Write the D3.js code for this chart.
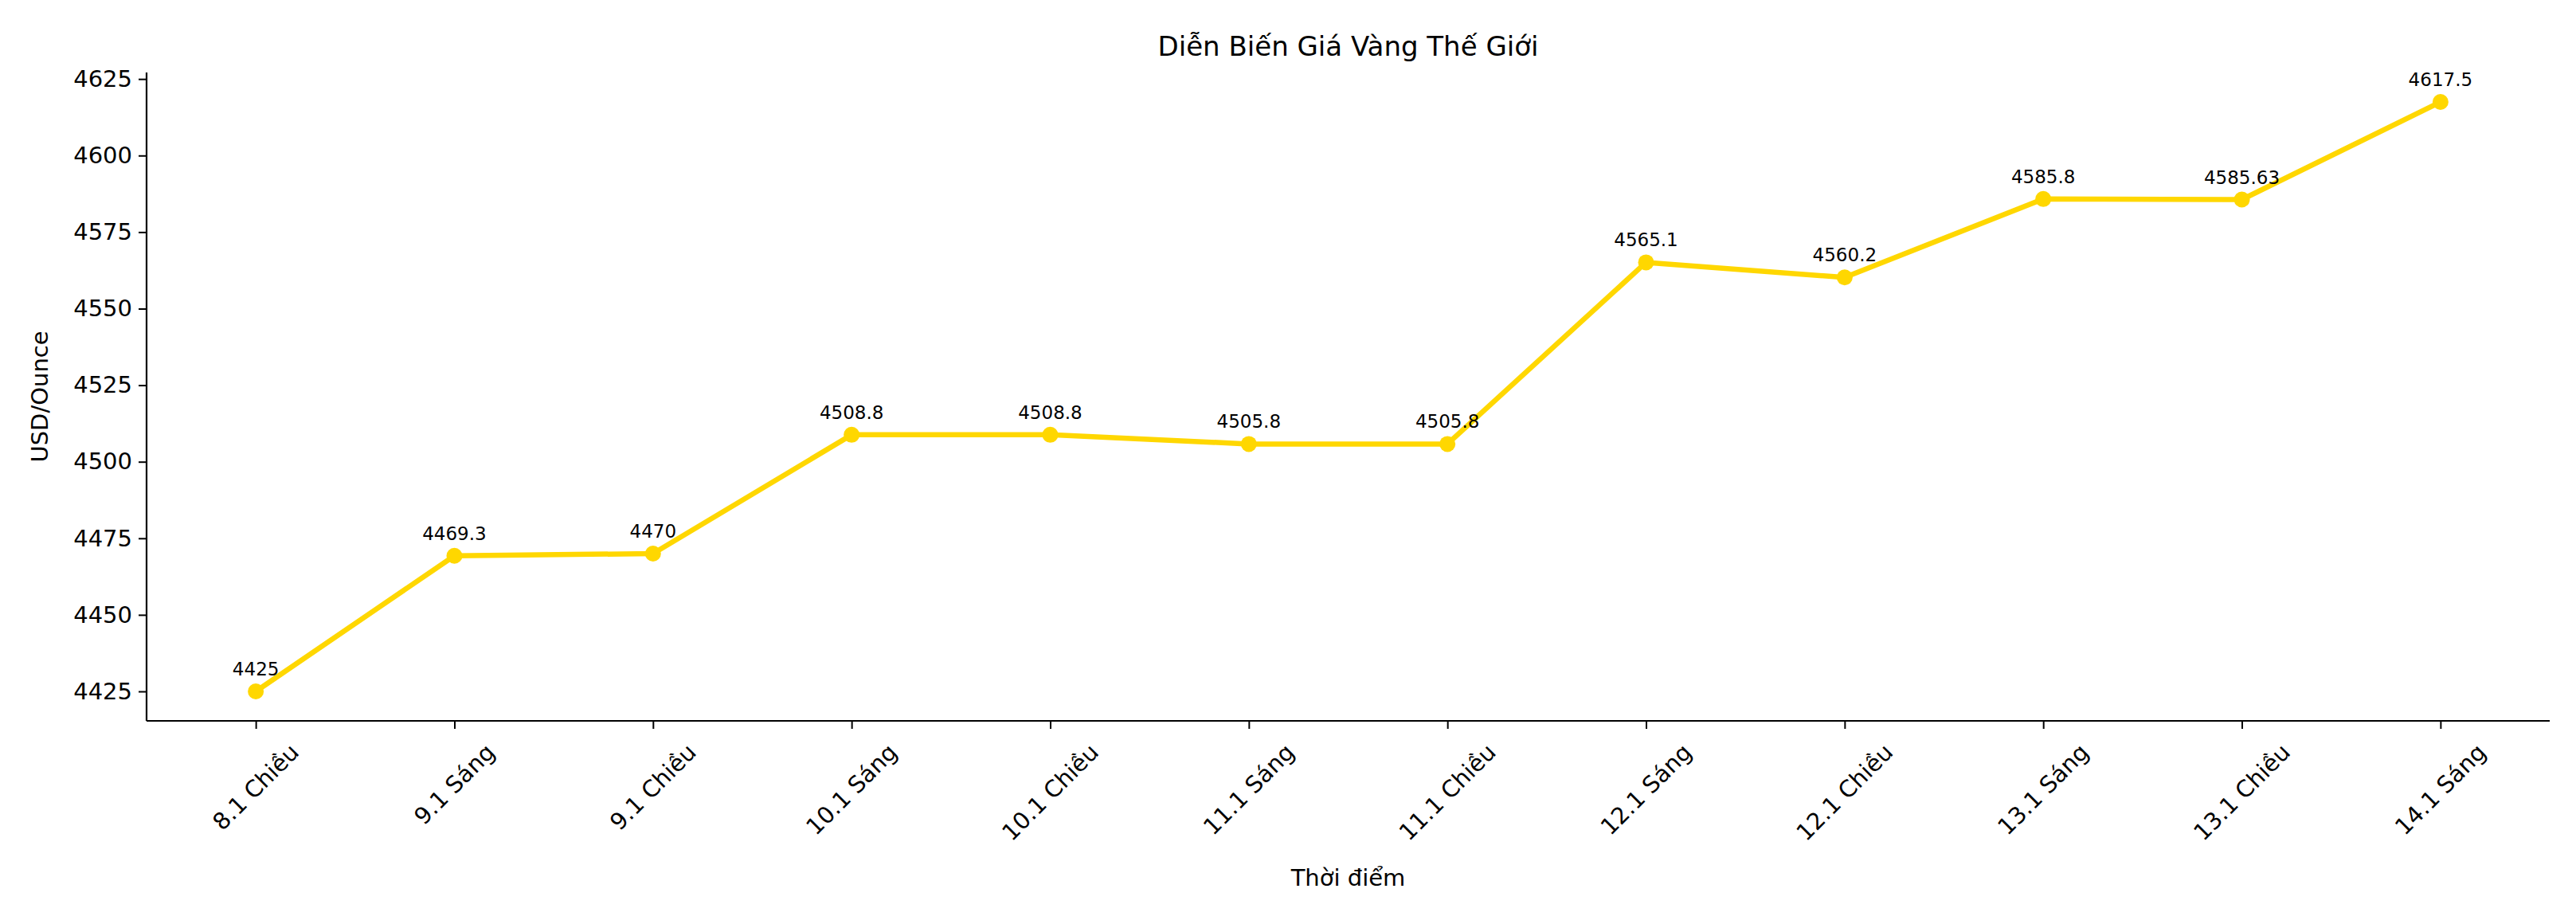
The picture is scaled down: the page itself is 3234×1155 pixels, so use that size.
<!DOCTYPE html>
<html>
<head>
<meta charset="utf-8">
<script src="https://cdn.jsdelivr.net/npm/d3@7"></script>
<style>
  body { margin: 0; background: #fff; }
  text { font-family: "DejaVu Sans", sans-serif; fill: #000; }
</style>
</head>
<body>
<svg id="chart" width="3234" height="1155"></svg>
<script>
var categories = ["8.1 Chiều", "9.1 Sáng", "9.1 Chiều", "10.1 Sáng", "10.1 Chiều", "11.1 Sáng",
                  "11.1 Chiều", "12.1 Sáng", "12.1 Chiều", "13.1 Sáng", "13.1 Chiều", "14.1 Sáng"];
var prices = [4425, 4469.3, 4470, 4508.8, 4508.8, 4505.8, 4505.8, 4565.1, 4560.2, 4585.8, 4585.63, 4617.5];
var yTicks = [4425, 4450, 4475, 4500, 4525, 4550, 4575, 4600, 4625];

var mLeft = 184, mRight = 3201, mTop = 91, mBottom = 905;
var gold = "#FFD700";
var svg = d3.select("#chart");

// matplotlib style 5% margins
var n = categories.length;
var x = d3.scaleLinear().domain([-0.55, n - 1 + 0.55]).range([mLeft, mRight]);
var ext = d3.extent(prices), pad = (ext[1] - ext[0]) * 0.05;
var y = d3.scaleLinear().domain([ext[0] - pad, ext[1] + pad]).range([mBottom, mTop]);

// y axis
var yAxis = svg.append("g").attr("transform", "translate(" + mLeft + ",0)")
    .call(d3.axisLeft(y).tickValues(yTicks).tickSize(10).tickPadding(8).tickFormat(d3.format("d")));
yAxis.selectAll("text").style("font-size", "29px");
yAxis.select(".domain").attr("stroke-width", 2.2).attr("d", "M0," + mTop + "V" + mBottom);
yAxis.selectAll(".tick line").attr("stroke-width", 2);

// x axis
var xAxis = svg.append("g").attr("transform", "translate(0," + mBottom + ")")
    .call(d3.axisBottom(x).tickValues(d3.range(n)).tickSize(10).tickFormat(""));
xAxis.select(".domain").attr("stroke-width", 2.2).attr("d", "M" + mLeft + ",0H" + mRight);
xAxis.selectAll(".tick line").attr("stroke-width", 2);

// rotated tick labels, centred on the tick like matplotlib
categories.forEach(function(c, i) {
    var t = svg.append("text").text(c).style("font-size", "29px")
        .attr("text-anchor", "middle").attr("dominant-baseline", "central");
    var w = t.node().getComputedTextLength(), h = 29;
    var bh = (w + h) * Math.SQRT1_2;
    var cx = x(i), cy = mBottom + 24 + bh / 2;
    t.attr("x", cx).attr("y", cy).attr("transform", "rotate(-45," + cx + "," + cy + ")");
});

// line + markers
var line = d3.line().x(function(d, i) { return x(i); }).y(function(d) { return y(d); });
svg.append("path").datum(prices).attr("d", line)
    .attr("fill", "none").attr("stroke", gold).attr("stroke-width", 6.5).attr("stroke-linejoin", "round");
svg.selectAll("circle.pt").data(prices).enter().append("circle")
    .attr("cx", function(d, i) { return x(i); }).attr("cy", function(d) { return y(d); })
    .attr("r", 10).attr("fill", gold);

// value labels
svg.selectAll("text.val").data(prices).enter().append("text")
    .attr("x", function(d, i) { return x(i); }).attr("y", function(d) { return y(d) - 20; })
    .attr("text-anchor", "middle").style("font-size", "23px")
    .text(function(d) { return String(d); });

// titles
svg.append("text").attr("x", (mLeft + mRight) / 2).attr("y", 70).attr("text-anchor", "middle")
    .style("font-size", "34px").text("Diễn Biến Giá Vàng Thế Giới");
svg.append("text").attr("x", (mLeft + mRight) / 2).attr("y", 1112).attr("text-anchor", "middle")
    .style("font-size", "29px").text("Thời điểm");
svg.append("text").attr("transform", "translate(60," + (mTop + mBottom) / 2 + ") rotate(-90)")
    .attr("text-anchor", "middle").style("font-size", "29px").text("USD/Ounce");
</script>
</body>
</html>
